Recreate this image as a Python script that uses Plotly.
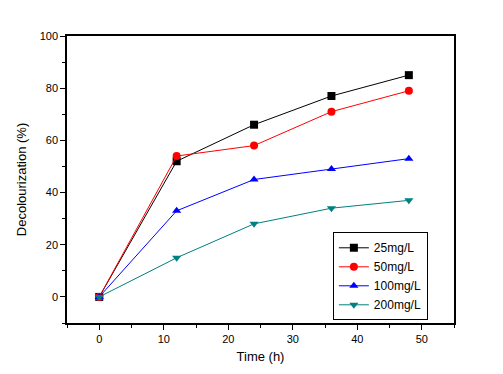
import plotly.graph_objects as go

time_h = [0, 12, 24, 36, 48]
s25 = [0, 52, 66, 77, 85]
s50 = [0, 54, 58, 71, 79]
s100 = [0, 33, 45, 49, 53]
s200 = [0, 15, 28, 34, 37]
names = ["25mg/L", "50mg/L", "100mg/L", "200mg/L"]
colors = ["#000000", "#ff0000", "#0000ff", "#008080"]
symbols = ["square", "circle", "triangle-up", "triangle-down"]

fig = go.Figure()
for name, ys, c, s in zip(names, [s25, s50, s100, s200], colors, symbols):
    fig.add_trace(go.Scatter(x=time_h, y=ys, name=name, mode="lines+markers",
                             line=dict(color=c, width=1),
                             marker=dict(symbol=s, size=8, color=c)))

axis_common = dict(showline=True, linecolor="black", linewidth=1.5, mirror=True,
                   ticks="outside", ticklen=5, tickcolor="black", showgrid=False,
                   zeroline=False, tickfont=dict(family="Arial", size=11, color="black"))
fig.update_xaxes(range=[-5, 55], dtick=10, tick0=0,
                 minor=dict(dtick=5, ticks="outside", ticklen=3, tickcolor="black"),
                 title=dict(text="Time (h)", font=dict(family="Arial", size=13, color="black"), standoff=8),
                 **axis_common)
fig.update_yaxes(range=[-10, 100], dtick=20, tick0=0,
                 minor=dict(dtick=10, tick0=0, ticks="outside", ticklen=3, tickcolor="black"),
                 title=dict(text="Decolourization (%)", font=dict(family="Arial", size=13, color="black"), standoff=10),
                 **axis_common)
# page has an 8px default body margin, so the figure is shrunk by that amount
fig.update_layout(width=495, height=366, margin=dict(l=59, r=49, t=28, b=51),
                  paper_bgcolor="white", plot_bgcolor="white",
                  legend=dict(x=0.687, y=0.316, xanchor="left", yanchor="top",
                              bordercolor="black", borderwidth=1, bgcolor="white",
                              font=dict(family="Arial", size=12, color="black"),
                              tracegroupgap=0, itemwidth=30))
fig.write_html("out.html")
